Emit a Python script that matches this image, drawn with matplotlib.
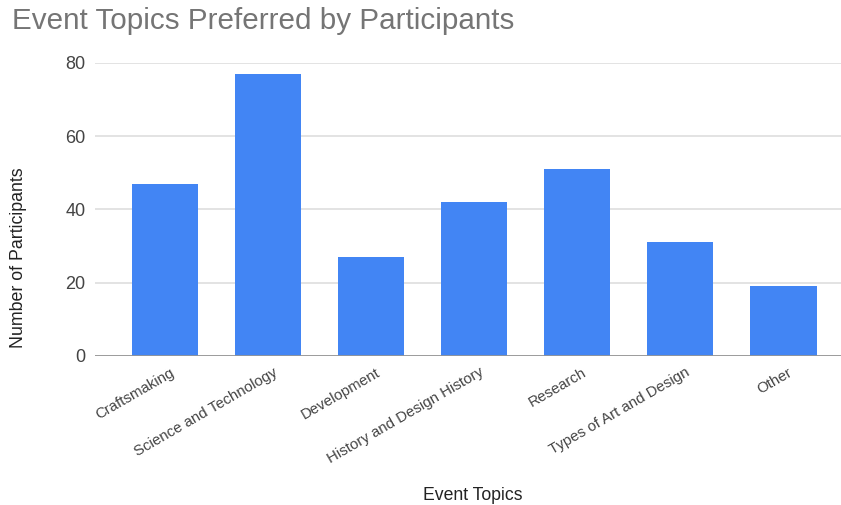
import matplotlib
matplotlib.use("Agg")
import matplotlib.pyplot as plt
from matplotlib.transforms import ScaledTranslation

plt.rcParams['font.family'] = ['Liberation Sans', 'DejaVu Sans']

temas = ["Craftsmaking", "Science and Technology", "Development",
         "History and Design History", "Research", "Types of Art and Design",
         "Other"]
participantes = [47, 77, 27, 42, 51, 31, 19]

fig = plt.figure(figsize=(8.41, 5.05), dpi=100)
ax = fig.add_axes([95 / 841, 1 - 356 / 505, 1 - 95 / 841, (356 - 62.7) / 505])

x = list(range(len(temas)))
ax.bar(x, participantes, width=0.645, color="#4285F4", zorder=3)

ax.set_ylim(0, 80)
ax.set_xlim(-0.68, len(temas) - 1 + 0.56)
ax.set_yticks([0, 20, 40, 60, 80])
ax.grid(axis="y", color="#e0e0e0", linewidth=1.3, zorder=0)
ax.axhline(0, color="#959595", linewidth=2, zorder=4)
for s in ax.spines.values():
    s.set_visible(False)

ax.tick_params(axis="y", length=0, pad=7, labelsize=13, labelcolor="#444444")
ax.tick_params(axis="x", length=0, pad=11, labelsize=10.8, labelcolor="#444444")
ax.set_xticks(x)
ax.set_xticklabels(temas, rotation=30, ha="right", va="center",
                   rotation_mode="anchor")
desplazar = ScaledTranslation(8 / 100, 0, fig.dpi_scale_trans)
for lbl in ax.get_xticklabels():
    lbl.set_transform(lbl.get_transform() + desplazar)

fig.text(12 / 841, 1 - 29 / 505, "Event Topics Preferred by Participants",
         fontsize=21.3, color="#757575", ha="left", va="baseline")
fig.text(473 / 841, 1 - 500.5 / 505, "Event Topics", fontsize=12.7,
         color="#222222", ha="center", va="baseline")
fig.text(19 / 841, 1 - 258 / 505, "Number of Participants", fontsize=12.8,
         color="#222222", ha="center", va="center", rotation=90)

plt.savefig("out.png", dpi=100)
